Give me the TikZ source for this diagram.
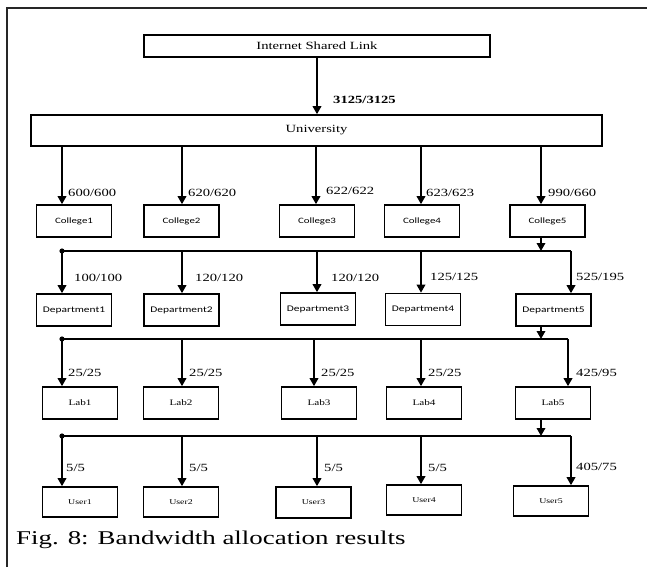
\documentclass[tikz,border=0pt]{standalone}
\usepackage{fontspec}
\setmainfont{Liberation Serif}[FakeStretch=1.33]
\newfontfamily\sansf{Carlito}[FakeStretch=1.33]
\newfontfamily\capf{Liberation Serif}[FakeStretch=1.38]
\usetikzlibrary{arrows.meta}
\tikzset{
  box/.style={draw, line width=1.6pt, inner sep=0pt, minimum width=75pt, minimum height=32pt},
  serif11/.style={font=\fontsize{11}{13}\selectfont},
  cfont/.style={font=\sansf\fontsize{8.2}{10}\selectfont},
  dfont/.style={font=\sansf\fontsize{8.6}{10}\selectfont},
  lfont/.style={font=\fontsize{8.4}{10}\selectfont},
  ufont/.style={font=\fontsize{7.4}{9}\selectfont},
  arr/.style={line width=1.8pt, -{Triangle[width=8.5pt,length=8pt]}},
  busline/.style={line width=1.6pt, line join=miter},
  lbl/.style={anchor=west, inner sep=0pt, font=\fontsize{11}{13}\selectfont},
  framel/.style={line width=2pt, draw=black!85},
}
\begin{document}
\begin{tikzpicture}[x=1pt,y=-1pt]
\useasboundingbox (0,0) rectangle (647,567);
\draw[framel] (7,567) -- (7,8) -- (647,8);

% top
\node[box, minimum width=346pt, minimum height=22pt, serif11] (inet) at (317,46) {Internet Shared Link};
\node[box, minimum width=571pt, minimum height=31pt, serif11] (univ) at (316.5,130.5) {University};
\draw[arr] (inet.south) -- (inet.south |- univ.north);
\node[lbl, font=\bfseries\fontsize{11}{13}\selectfont] (t0) at (333,100) {3125/3125};

% colleges
\node[box, cfont] (c1) at (74,221) {College1};
\node[box, cfont] (c2) at (181.5,221) {College2};
\node[box, cfont] (c3) at (317,221) {College3};
\node[box, cfont] (c4) at (422,221) {College4};
\node[box, cfont] (c5) at (547.5,221) {College5};

\coordinate (k1) at (62,0);
\coordinate (k2) at (182,0);
\coordinate (k3) at (316,0);
\coordinate (k4) at (421,0);
\coordinate (k5) at (541,0);
\draw[arr] (k1 |- univ.south) -- (k1 |- c1.north);
\draw[arr] (k2 |- univ.south) -- (k2 |- c2.north);
\draw[arr] (k3 |- univ.south) -- (k3 |- c3.north);
\draw[arr] (k4 |- univ.south) -- (k4 |- c4.north);
\draw[arr] (k5 |- univ.south) -- (k5 |- c5.north);
\node[lbl] (t11) at (68,193) {600/600};
\node[lbl] (t12) at (188,193) {620/620};
\node[lbl] (t13) at (326,191) {622/622};
\node[lbl] (t14) at (426,193) {623/623};
\node[lbl] (t15) at (548,193) {990/660};

% departments
\node[box, dfont] (d1) at (74,310) {Department1};
\node[box, dfont] (d2) at (181.5,310) {Department2};
\node[box, dfont] (d3) at (318,309) {Department3};
\node[box, dfont] (d4) at (423,309.5) {Department4};
\node[box, dfont] (d5) at (553.5,310) {Department5};

\coordinate (b1) at (62,251);
\coordinate (p2) at (182,251);
\coordinate (p3) at (317,251);
\coordinate (p4) at (421,251);
\coordinate (p5) at (571,251);
\draw[arr] (k5 |- c5.south) -- (k5 |- b1);
\draw[busline] (b1) -- (p5);
\fill (b1) circle (2.6pt);
\draw[arr] (b1) -- (b1 |- d1.north);
\draw[arr] (p2) -- (p2 |- d2.north);
\draw[arr] (p3) -- (p3 |- d3.north);
\draw[arr] (p4) -- (p4 |- d4.north);
\draw[arr] (p5) -- (p5 |- d5.north);
\node[lbl] (t21) at (74,278) {100/100};
\node[lbl] (t22) at (195,278) {120/120};
\node[lbl] (t23) at (331,278) {120/120};
\node[lbl] (t24) at (430,277) {125/125};
\node[lbl] (t25) at (576,277) {525/195};

% labs
\node[box, lfont] (l1) at (80,403) {Lab1};
\node[box, lfont] (l2) at (181,403) {Lab2};
\node[box, lfont] (l3) at (319,403) {Lab3};
\node[box, lfont] (l4) at (424,403) {Lab4};
\node[box, lfont] (l5) at (553,403) {Lab5};

\coordinate (b2) at (62,339);
\coordinate (r2) at (182,339);
\coordinate (r3) at (314,339);
\coordinate (r4) at (421,339);
\coordinate (r5) at (568,339);
\draw[arr] (k5 |- d5.south) -- (k5 |- b2);
\draw[busline] (b2) -- (r5);
\fill (b2) circle (2.6pt);
\draw[arr] (b2) -- (b2 |- l1.north);
\draw[arr] (r2) -- (r2 |- l2.north);
\draw[arr] (r3) -- (r3 |- l3.north);
\draw[arr] (r4) -- (r4 |- l4.north);
\draw[arr] (r5) -- (r5 |- l5.north);
\node[lbl] (t31) at (68,373) {25/25};
\node[lbl] (t32) at (189,373) {25/25};
\node[lbl] (t33) at (321,373) {25/25};
\node[lbl] (t34) at (428,373) {25/25};
\node[lbl] (t35) at (576,373) {425/95};

% users
\node[box, ufont, minimum height=30pt] (u1) at (80,502) {User1};
\node[box, ufont, minimum height=30pt] (u2) at (181,502) {User2};
\node[box, ufont, minimum height=31pt] (u3) at (313.5,502.5) {User3};
\node[box, ufont, minimum height=30pt] (u4) at (424,500) {User4};
\node[box, ufont, minimum height=30pt] (u5) at (551,501) {User5};

\coordinate (b3) at (62,436);
\coordinate (s2) at (182,436);
\coordinate (s3) at (317,436);
\coordinate (s4) at (421,436);
\coordinate (s5) at (571,436);
\draw[arr] (k5 |- l5.south) -- (k5 |- b3);
\draw[busline] (b3) -- (s5);
\fill (b3) circle (2.6pt);
\draw[arr] (b3) -- (b3 |- u1.north);
\draw[arr] (s2) -- (s2 |- u2.north);
\draw[arr] (s3) -- (s3 |- u3.north);
\draw[arr] (s4) -- (s4 |- u4.north);
\draw[arr] (s5) -- (s5 |- u5.north);
\node[lbl] (t41) at (66,468) {5/5};
\node[lbl] (t42) at (189,468) {5/5};
\node[lbl] (t43) at (324,468) {5/5};
\node[lbl] (t44) at (428,468) {5/5};
\node[lbl] (t45) at (576,467) {405/75};

% caption
\node[anchor=base west, inner sep=0pt, font=\capf\fontsize{19.5}{22}\selectfont] (cap) at (16,544) {Fig. 8: Bandwidth allocation results};
\end{tikzpicture}
\end{document}
